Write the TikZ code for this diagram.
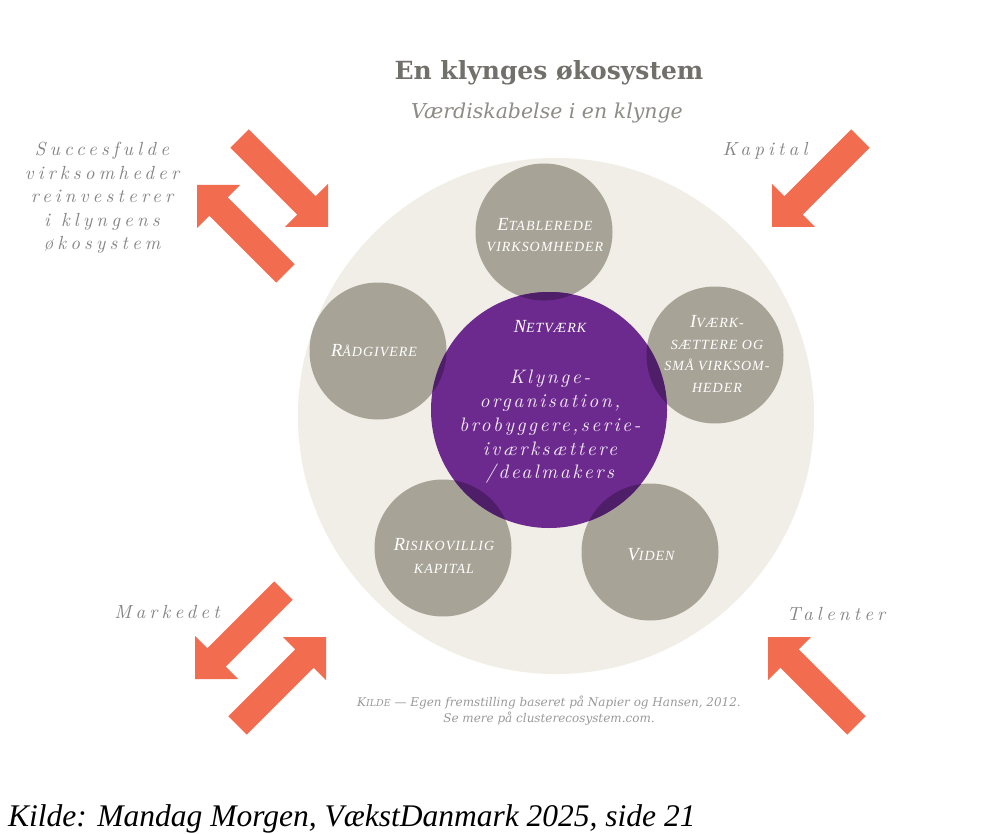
\documentclass[tikz,border=0pt]{standalone}
\usepackage{fontspec}
\newfontfamily\spit{lmroman10-italic.otf}[LetterSpace=22]
\newfontfamily\spitc{lmroman10-italic.otf}[LetterSpace=13]
\newfontfamily\capfont{Liberation Serif}[LetterSpace=7]
\newfontfamily\slab{DejaVu Serif}
\newfontfamily\timesf{Liberation Serif}
\definecolor{beige}{HTML}{F0EEE6}
\definecolor{circgray}{HTML}{A7A397}
\definecolor{purp}{HTML}{6C2A8E}
\definecolor{darkpurp}{HTML}{4E1E68}
\definecolor{arrowred}{HTML}{F26D4F}
\definecolor{labelgray}{HTML}{858585}
\definecolor{titlegray}{HTML}{72706A}
\definecolor{subgray}{HTML}{8E8C86}
\definecolor{srcgray}{HTML}{9A9A9A}
\definecolor{lav}{HTML}{F1E8F5}
\newcommand\isc[2]{{\fontsize{18.5}{22}\selectfont #1}{\fontsize{14}{22}\selectfont #2}}
\newcommand\smc[1]{{\fontsize{14}{22}\selectfont #1}}
\newcommand\bigarrow[2]{%
  \fill[arrowred, shift={#1}, rotate=#2] (0,0) -- (-30.5,30.5) -- (-30.5,13) -- (-125,13) -- (-125,-13) -- (-30.5,-13) -- (-30.5,-30.5) -- cycle;}
\begin{document}
\begin{tikzpicture}[x=1pt,y=-1pt,
  graycirc/.style={circle, fill=circgray, minimum size=137pt, inner sep=0pt},
  circlbl/.style={text=white, font=\capfont\itshape\fontsize{14}{21.5}\selectfont, align=center, inner sep=0pt},
  outlbl/.style={text=labelgray, font=\spit\fontsize{19}{23.5}\selectfont, align=center, inner sep=0pt}]
\useasboundingbox (0,0) rectangle (987,834);
\fill[white] (0,0) rectangle (987,834);
% ecosystem
\node[circle, fill=beige, minimum size=516pt, inner sep=0pt] (eco) at (556,416) {};
\node[graycirc] (etab) at (544,232) {};
\node[graycirc] (raad) at (378,351) {};
\node[graycirc] (ivaerk) at (715,355) {};
\node[graycirc] (risk) at (443,548) {};
\node[graycirc] (viden) at (650,552) {};
\node[circle, fill=purp, minimum size=236pt, inner sep=0pt] (net) at (549,410) {};
\begin{scope}
  \clip (net.center) circle[radius=118];
  \foreach \c in {etab,raad,ivaerk,risk,viden}
    \fill[darkpurp] (\c.center) circle[radius=68.5];
\end{scope}
% arrows
\coordinate (a1) at (328,227);
\coordinate (a2) at (197,185);
\coordinate (a3) at (772,227);
\coordinate (a4) at (195,679);
\coordinate (a5) at (326,637);
\coordinate (a6) at (768,637);
\bigarrow{(a1)}{-45}
\bigarrow{(a2)}{135}
\bigarrow{(a3)}{225}
\bigarrow{(a4)}{225}
\bigarrow{(a5)}{45}
\bigarrow{(a6)}{135}
% title
\node[text=titlegray, font=\slab\bfseries\fontsize{25}{30}\selectfont, inner sep=0pt] (title) at (549,73) {En klynges økosystem};
\node[text=subgray, font=\slab\itshape\fontsize{20.5}{24}\selectfont, inner sep=0pt] (subtitle) at (547,113) {Værdiskabelse i en klynge};
% outer labels
\node[outlbl] (succ) at (102,198) {Succesfulde\\virksomheder\\reinvesterer\\i klyngens\\økosystem};
\node[outlbl] (kapital) at (765,151) {Kapital};
\node[outlbl] (marked) at (167,612) {Markedet};
\node[outlbl] (talent) at (836,614) {Talenter};
% circle labels
\node[circlbl] (etabl) at (545,235) {\isc{E}{TABLEREDE}\\\smc{VIRKSOMHEDER}};
\node[circlbl] (raadl) at (374,351) {\isc{R}{ÅDGIVERE}};
\node[circlbl] (ivaerkl) at (717,354) {\isc{I}{VÆRK-}\\\smc{SÆTTERE OG}\\\smc{SMÅ VIRKSOM-}\\\smc{HEDER}};
\node[circlbl] (riskl) at (444,556) {\isc{R}{ISIKOVILLIG}\\[2pt]\smc{KAPITAL}};
\node[circlbl] (videnl) at (651,555) {\isc{V}{IDEN}};
\node[circlbl] (netl) at (550,327) {\isc{N}{ETVÆRK}};
\node[text=lav, font=\spitc\fontsize{19.5}{23.7}\selectfont, align=center, inner sep=0pt] (netbody) at (550,427) {Klynge-\\organisation,\\brobyggere,serie-\\iværksættere\\/dealmakers};
% source
\node[text=srcgray, font=\slab\itshape\fontsize{12}{16}\selectfont, align=center, inner sep=0pt] (src) at (549,711) {K{\fontsize{9.5}{16}\selectfont ILDE} — Egen fremstilling baseret på Napier og Hansen, 2012.\\Se mere på clusterecosystem.com.};
% caption
\node[anchor=base west, inner sep=0pt, font=\timesf\itshape\fontsize{31.5}{36}\selectfont] (caption) at (8,826) {Kilde: Mandag Morgen, VækstDanmark 2025, side 21};
\end{tikzpicture}
\end{document}
